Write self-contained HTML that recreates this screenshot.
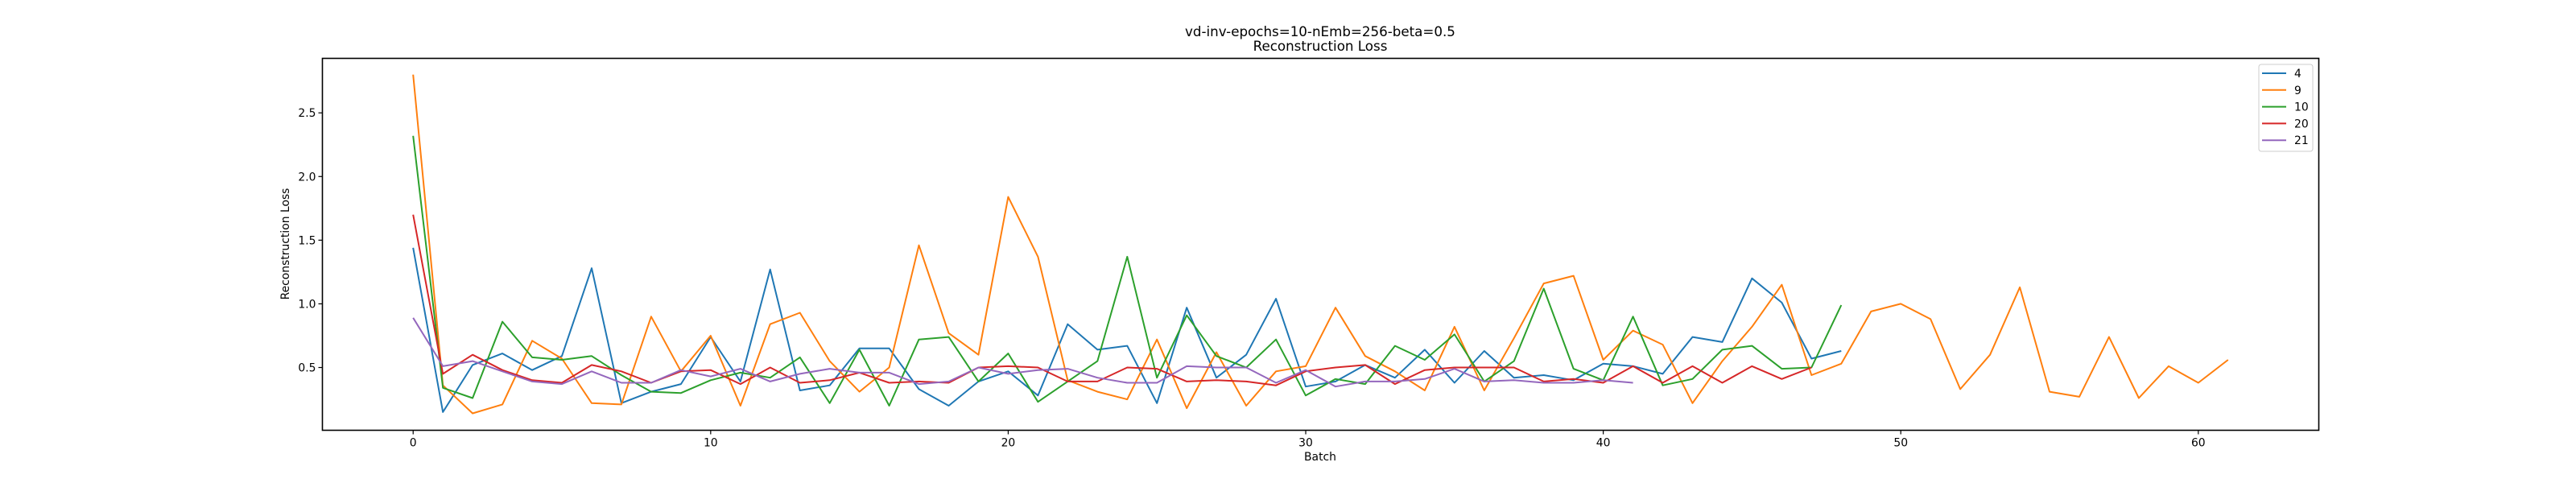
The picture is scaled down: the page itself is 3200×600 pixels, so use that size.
<!DOCTYPE html>
<html><head><meta charset="utf-8"><style>
html,body{margin:0;padding:0;background:#fff;}
svg{display:block;font-family:"DejaVu Sans","Liberation Sans",sans-serif;}
</style></head><body>
<svg id="chart" width="3200" height="600" viewBox="0 0 3200 600">
<rect width="3200" height="600" fill="#fff"/>
<text x="1640" y="45" text-anchor="middle" font-size="16.7">vd-inv-epochs=10-nEmb=256-beta=0.5</text>
<text x="1640" y="63" text-anchor="middle" font-size="16.7">Reconstruction Loss</text>
<g id="ticks"></g>
<g id="lines"></g>
<rect x="400.5" y="72.5" width="2480" height="462" fill="none" stroke="#000" stroke-width="1.6"/>
<text x="1640" y="572" text-anchor="middle" font-size="13.9">Batch</text>
<text transform="translate(359,303) rotate(-90)" text-anchor="middle" font-size="13.9">Reconstruction Loss</text>
<g id="legend"></g>
</svg>
<script>
const seriesNames = ["4","9","10","20","21"];
const seriesColors = ["#1f77b4","#ff7f0e","#2ca02c","#d62728","#9467bd"];
const s4 = [1.44,0.15,0.52,0.61,0.48,0.59,1.28,0.22,0.31,0.37,0.74,0.39,1.27,0.32,0.36,0.65,0.65,0.33,0.20,0.39,0.47,0.28,0.84,0.64,0.67,0.22,0.97,0.42,0.60,1.04,0.35,0.39,0.52,0.42,0.64,0.38,0.63,0.42,0.44,0.40,0.53,0.51,0.45,0.74,0.70,1.20,1.01,0.57,0.63];
const s9 = [2.80,0.36,0.14,0.21,0.71,0.57,0.22,0.21,0.90,0.47,0.75,0.20,0.84,0.93,0.55,0.31,0.50,1.46,0.77,0.60,1.84,1.37,0.40,0.31,0.25,0.72,0.18,0.62,0.20,0.47,0.51,0.97,0.59,0.47,0.32,0.82,0.32,0.73,1.16,1.22,0.56,0.79,0.68,0.22,0.55,0.82,1.15,0.44,0.53,0.94,1.00,0.88,0.33,0.60,1.13,0.31,0.27,0.74,0.26,0.51,0.38,0.56];
const s10 = [2.32,0.34,0.26,0.86,0.58,0.56,0.59,0.44,0.31,0.30,0.40,0.46,0.42,0.58,0.22,0.64,0.20,0.72,0.74,0.39,0.61,0.23,0.39,0.55,1.37,0.42,0.91,0.59,0.50,0.72,0.28,0.41,0.37,0.67,0.56,0.76,0.39,0.55,1.12,0.49,0.40,0.90,0.36,0.41,0.64,0.67,0.49,0.50,0.99];
const s20 = [1.70,0.45,0.60,0.48,0.40,0.38,0.52,0.47,0.38,0.47,0.48,0.37,0.50,0.38,0.40,0.46,0.38,0.39,0.38,0.50,0.51,0.50,0.39,0.39,0.50,0.49,0.39,0.40,0.39,0.36,0.47,0.50,0.52,0.37,0.48,0.50,0.50,0.50,0.39,0.41,0.38,0.51,0.38,0.51,0.38,0.51,0.41,0.50];
const s21 = [0.89,0.51,0.55,0.47,0.39,0.37,0.47,0.38,0.38,0.48,0.43,0.49,0.39,0.45,0.49,0.46,0.46,0.37,0.39,0.50,0.45,0.48,0.49,0.42,0.38,0.38,0.51,0.50,0.50,0.38,0.48,0.35,0.39,0.39,0.41,0.49,0.39,0.40,0.38,0.38,0.40,0.38];
const xTicks = [0,10,20,30,40,50,60];
const yTicks = [0.5,1.0,1.5,2.0,2.5];
const yTickLabels = ["0.5","1.0","1.5","2.0","2.5"];
const allSeries = [s4,s9,s10,s20,s21];

const X0=400.5, X1=2880.5, Y0=534.5, Y1=72.5;
const xMin=-3.05, xMax=64.05, yMin=0.007, yMax=2.928;
function xs(v){return X0+(v-xMin)/(xMax-xMin)*(X1-X0);}
function ys(v){return Y0-(v-yMin)/(yMax-yMin)*(Y0-Y1);}
const NS="http://www.w3.org/2000/svg";
function mk(tag,attrs,parent){const e=document.createElementNS(NS,tag);for(const k in attrs)e.setAttribute(k,attrs[k]);parent.appendChild(e);return e;}
const tg=document.getElementById('ticks');
xTicks.forEach(t=>{
  const x=xs(t);
  const l=mk('line',{x1:x,x2:x,y1:Y0,y2:Y0+5,stroke:'#000','stroke-width':1.2},tg);
  
  
  const tx=mk('text',{x:x,y:Y0+20,'text-anchor':'middle','font-size':13.9},tg);
  tx.textContent=String(t);
  
  
});
yTicks.forEach((t,i)=>{
  const y=ys(t);
  const l=mk('line',{x1:X0-5,x2:X0,y1:y,y2:y,stroke:'#000','stroke-width':1.2},tg);
  
  
  const tx=mk('text',{x:X0-8,y:y+5,'text-anchor':'end','font-size':13.9},tg);
  tx.textContent=yTickLabels[i];
  
  
});
const lg=document.getElementById('lines');
allSeries.forEach((s,k)=>{
  const pts=s.map((v,i)=>xs(i).toFixed(1)+','+ys(v).toFixed(1)).join(' ');
  const p=mk('polyline',{points:pts,fill:'none',stroke:seriesColors[k],'stroke-width':2,'stroke-linejoin':'round'},lg);
  
  
});
const leg=document.getElementById('legend');
const box=mk('rect',{x:2806,y:80,width:67,height:108,rx:3,fill:'#fff','fill-opacity':0.8,stroke:'#ccc','stroke-width':1},leg);


seriesNames.forEach((n,k)=>{
  const y=91+k*20.8;
  const l=mk('line',{x1:2810,x2:2840,y1:y,y2:y,stroke:seriesColors[k],'stroke-width':2},leg);
  
  
  const t=mk('text',{x:2850,y:y+5,'font-size':13.9},leg);
  t.textContent=n;
  
  
});
</script>
</body></html>
